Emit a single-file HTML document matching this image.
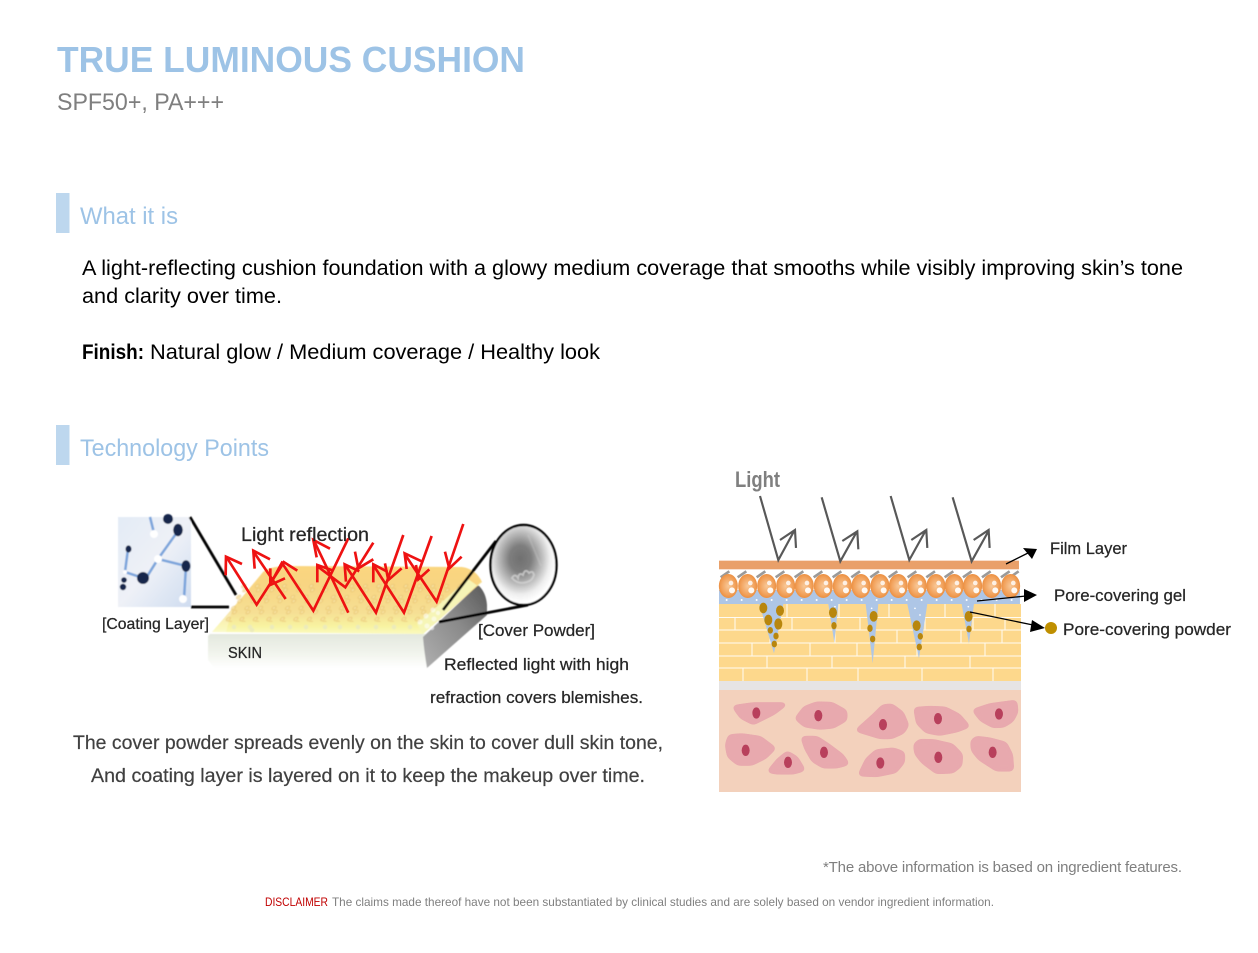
<!DOCTYPE html>
<html lang="en">
<head>
<meta charset="utf-8">
<title>True Luminous Cushion</title>
<style>
html,body{margin:0;padding:0;background:#fff;width:1258px;height:953px;overflow:hidden}
svg{display:block;font-family:"Liberation Sans",sans-serif}
</style>
</head>
<body>
<svg width="1258" height="953" viewBox="0 0 1258 953" xmlns="http://www.w3.org/2000/svg">
<defs>
  <filter id="b1" x="-5%" y="-5%" width="110%" height="110%"><feGaussianBlur stdDeviation="0.6"/></filter>
  <filter id="b2" x="-5%" y="-5%" width="110%" height="110%"><feGaussianBlur stdDeviation="0.35"/></filter>
  <filter id="goo" x="-5%" y="-5%" width="110%" height="110%" color-interpolation-filters="sRGB">
    <feGaussianBlur stdDeviation="7"/>
    <feColorMatrix type="matrix" values="1 0 0 0 0  0 1 0 0 0  0 0 1 0 0  0 0 0 14 -6"/>
  </filter>
  <linearGradient id="top" x1="0" y1="0" x2="0" y2="1">
    <stop offset="0" stop-color="#fad67f"/><stop offset=".28" stop-color="#f8d582"/>
    <stop offset=".7" stop-color="#f6e095"/><stop offset=".88" stop-color="#f8f3a0"/><stop offset="1" stop-color="#fafac0"/>
  </linearGradient>
  <linearGradient id="skin" x1="0" y1="0" x2="0" y2="1">
    <stop offset="0" stop-color="#e3e8de"/><stop offset=".55" stop-color="#f1f4ec"/><stop offset="1" stop-color="#fff"/>
  </linearGradient>
  <linearGradient id="side" x1="0" y1="1" x2="1" y2="0">
    <stop offset="0" stop-color="#b0b0b0"/><stop offset=".55" stop-color="#8a8a8a"/><stop offset="1" stop-color="#595959"/>
  </linearGradient>
  <linearGradient id="coat" x1="0" y1="0" x2="1" y2="1">
    <stop offset="0" stop-color="#e3ebf6"/><stop offset=".5" stop-color="#eef1f7"/><stop offset="1" stop-color="#cfdcf0"/>
  </linearGradient>
  <radialGradient id="lens" cx=".45" cy=".42" r=".55">
    <stop offset="0" stop-color="#707070"/><stop offset=".3" stop-color="#7e7e7e"/><stop offset=".6" stop-color="#bdbdbd"/><stop offset=".82" stop-color="#efefef"/><stop offset="1" stop-color="#fff"/>
  </radialGradient>
  <radialGradient id="ball" cx=".5" cy=".5" r=".55">
    <stop offset="0" stop-color="#f8c898"/><stop offset=".65" stop-color="#f2a25c"/><stop offset="1" stop-color="#e98a3a"/>
  </radialGradient>
  <pattern id="dots" width="13.5" height="11" patternUnits="userSpaceOnUse" patternTransform="skewX(-25)">
    <circle cx="4" cy="3" r="2.500" fill="#e8c474" opacity=".55"/>
    <circle cx="7" cy="7" r="2.500" fill="#e8c474" opacity=".55"/>
    <circle cx="4" cy="3" r="1.100" fill="#f9e6a8" opacity=".8"/>
    <circle cx="7" cy="7" r="1.100" fill="#f9e6a8" opacity=".8"/>
  </pattern>
  <clipPath id="topclip"><path d="M240,583 L482,583 L423,622 L222,622 Z"/></clipPath>
  <g id="bl">
    <ellipse cx="0" cy="0" rx="28.500" ry="36" fill="url(#ball)"/>
    <circle cx="8" cy="-9" r="7" fill="#fff" opacity=".8"/>
    <circle cx="11" cy="13" r="9" fill="#fff" opacity=".92"/>
  </g>
  <path id="hb" d="M0,0 L26,-18" stroke="#9a9a9a" stroke-width="8" fill="none"/>
</defs>

<rect width="1258" height="953" fill="#fff"/>

<!-- Headings -->
<text x="57" y="72" font-size="36" font-weight="bold" fill="#9dc3e6" textLength="468" lengthAdjust="spacingAndGlyphs">TRUE LUMINOUS CUSHION</text>
<text x="57" y="110" font-size="24" fill="#7f7f7f" textLength="167" lengthAdjust="spacingAndGlyphs">SPF50+, PA+++</text>

<rect x="56" y="193" width="13.500" height="40" fill="#bdd7ee"/>
<text x="80" y="224" font-size="24" fill="#9dc3e6" textLength="98" lengthAdjust="spacingAndGlyphs">What it is</text>

<text x="82" y="275" font-size="21" fill="#000" textLength="1101" lengthAdjust="spacingAndGlyphs">A light-reflecting cushion foundation with a glowy medium coverage that smooths while visibly improving skin’s tone</text>
<text x="82" y="303" font-size="21" fill="#000" textLength="200" lengthAdjust="spacingAndGlyphs">and clarity over time.</text>
<text x="82" y="359" font-size="21" font-weight="bold" fill="#000" textLength="62" lengthAdjust="spacingAndGlyphs">Finish:</text>
<text x="150" y="359" font-size="21" fill="#000" textLength="450" lengthAdjust="spacingAndGlyphs">Natural glow / Medium coverage / Healthy look</text>

<rect x="56" y="425" width="13.500" height="40" fill="#bdd7ee"/>
<text x="80" y="456" font-size="24" fill="#9dc3e6" textLength="189" lengthAdjust="spacingAndGlyphs">Technology Points</text>

<!-- LEFT DIAGRAM -->
<g filter="url(#b1)">
  <!-- coating molecule image -->
  <rect x="118" y="517" width="73" height="90" fill="url(#coat)"/>
  <g stroke="#7ea6dc" stroke-width="2.600" fill="none">
    <path d="M150,517 L154,533"/>
    <path d="M178,531 L158,559 L148,575 L143,578 L125,572 L128,549"/>
    <path d="M158,559 L186,566 L184,599"/>
  </g>
  <g fill="#14264c">
    <circle cx="168" cy="519" r="5"/>
    <ellipse cx="178" cy="530" rx="4.800" ry="6.200"/>
    <ellipse cx="128.500" cy="549" rx="3" ry="3.600"/>
    <ellipse cx="186" cy="566" rx="4.500" ry="5.800"/>
    <circle cx="143" cy="578" r="6"/>
    <circle cx="124" cy="580" r="2.800"/>
    <circle cx="123" cy="587" r="3.200"/>
  </g>
  <g fill="#fff">
    <circle cx="154" cy="534" r="4"/>
    <circle cx="158" cy="559" r="4"/>
    <circle cx="183" cy="599" r="4"/>
    <circle cx="125" cy="572" r="2"/>
  </g>
  <!-- slab -->
  <path d="M208,636 L210,634 L427,634 L427,668 L214,668 L208,660 Z" fill="url(#skin)"/>
  <path d="M423,637 L478,585 Q486,592 487,605 L487,615 L427,668 Q424,650 423,637 Z" fill="url(#side)"/>
  <path d="M212,632 Q236,605 263,572 Q268,567 285,566 L462,567 Q476,569 482,582 L423,634 Z" fill="url(#top)"/>
  <path d="M212,632 L232,610 L226,632 Z" fill="#fff" opacity=".25"/>
  <rect x="210" y="583" width="275" height="40" fill="url(#dots)" clip-path="url(#topclip)"/>
  <path d="M423,634 L482,581 L478,586 L468,579 L417,624 Z" fill="#f6f5b8" opacity=".95"/>
  <g fill="#fff" opacity=".55">
    <circle cx="420" cy="622" r="2.500"/><circle cx="426" cy="616" r="2.500"/><circle cx="433" cy="610" r="2.500"/><circle cx="427" cy="626" r="2.500"/><circle cx="434" cy="619" r="2.500"/><circle cx="432" cy="628" r="2.200"/><circle cx="438" cy="613" r="2.200"/>
  </g>
  <g fill="#ecebbb">
    <circle cx="234" cy="627" r="2.300"/><circle cx="250" cy="627" r="2.300"/><circle cx="252" cy="630" r="2.300"/><circle cx="272" cy="627" r="2.300"/><circle cx="290" cy="627" r="2.300"/><circle cx="306" cy="627" r="2.300"/><circle cx="325" cy="627" r="2.300"/><circle cx="340" cy="627" r="2.300"/><circle cx="358" cy="627" r="2.300"/><circle cx="376" cy="627" r="2.300"/><circle cx="394" cy="627" r="2.300"/><circle cx="410" cy="627" r="2.300"/>
  </g>
  <!-- lens -->
  <ellipse cx="523.500" cy="565" rx="33" ry="40" fill="url(#lens)"/>
  <g fill="none" stroke="#d6d6d6" stroke-width="2" opacity=".7">
    <path d="M512,578 q3,-5 6,0 q1,-6 5,-3 q2,-7 6,-2 q4,-3 5,2 q-2,6 -7,7 q-9,3 -15,-4z"/>
    <path d="M528,535 L541,566" opacity=".35"/>
  </g>
  <ellipse cx="523.500" cy="565" rx="33" ry="40" fill="none" stroke="#000" stroke-width="2.400"/>
  <g stroke="#000" stroke-width="2.800" fill="none">
    <path d="M190,517 L236,595"/>
    <path d="M191,607 L229,607"/>
    <path d="M443,610 L496,541"/>
    <path d="M439,622 L528,605"/>
  </g>
</g>
<!-- red rays -->
<g transform="translate(90 500) scale(.3333)" fill="none" stroke="#ee1212" stroke-width="8">
  <path d="M410,172 L500,314 L580,190"/><path d="M407,226 L408,170 L456,192"/>
  <path d="M492,157 L587,297"/><path d="M494,206 L490,152 L540,178"/>
  <path d="M575,187 L670,332 L775,115"/><path d="M541,205 L541,255 L585,235 M578,184 L622,212 M578,184 L548,240"/>
  <path d="M672,122 L775,338"/><path d="M680,172 L670,120 L720,146"/>
  <path d="M680,197 L766,262 L850,128"/><path d="M682,247 L682,195 L730,212"/>
  <path d="M795,155 L805,205 L850,178"/>
  <path d="M766,195 L858,338 L940,105"/><path d="M768,245 L764,193 L808,214"/>
  <path d="M850,195 L942,338 L1025,108"/><path d="M850,247 L850,193 L892,215"/>
  <path d="M885,190 L895,240 L935,205"/>
  <path d="M946,165 L1040,305 L1120,72"/><path d="M950,207 L944,160 L995,184"/>
  <path d="M978,195 L985,238 L1018,208"/>
  <path d="M1065,155 L1078,205 L1115,170"/>
</g>

<g fill="#262626" stroke="#262626" stroke-width=".25">
  <text x="241" y="541" font-size="19" textLength="128" lengthAdjust="spacingAndGlyphs">Light reflection</text>
  <text x="102" y="629" font-size="16" textLength="107" lengthAdjust="spacingAndGlyphs">[Coating Layer]</text>
  <text x="228" y="658" font-size="16" textLength="34" lengthAdjust="spacingAndGlyphs">SKIN</text>
  <text x="478" y="636" font-size="17" textLength="117" lengthAdjust="spacingAndGlyphs">[Cover Powder]</text>
  <text x="444" y="670" font-size="17" textLength="185" lengthAdjust="spacingAndGlyphs">Reflected light with high</text>
  <text x="430" y="703" font-size="17" textLength="213" lengthAdjust="spacingAndGlyphs">refraction covers blemishes.</text>
</g>
<g fill="#404040" stroke="#404040" stroke-width=".2">
  <text x="73" y="749" font-size="19" textLength="590" lengthAdjust="spacingAndGlyphs">The cover powder spreads evenly on the skin to cover dull skin tone,</text>
  <text x="91" y="782" font-size="19" textLength="554" lengthAdjust="spacingAndGlyphs">And coating layer is layered on it to keep the makeup over time.</text>
</g>

<!-- RIGHT DIAGRAM -->
<text x="735" y="487" font-size="22" font-weight="bold" fill="#7f7f7f" textLength="45" lengthAdjust="spacingAndGlyphs">Light</text>

<g filter="url(#b2)">
  <!-- bricks -->
  <rect x="719" y="604" width="302" height="77" fill="#fdd88c"/>
  <g stroke="#fff" stroke-width="1" fill="none" opacity=".9">
    <path d="M719,617.500H1021M719,630H1021M719,643H1021M719,656H1021M719,668H1021"/>
    <path d="M787,604V617.500M839,604V617.500M889,604V617.500M945,604V617.500M995,604V617.500"/>
    <path d="M735,617.500V630M792,617.500V630M860,617.500V630M925,617.500V630M973,617.500V630M1005,617.500V630"/>
    <path d="M770,630V643M835,630V643M897,630V643M961,630V643M1002,630V643"/>
    <path d="M752,643V656M810,643V656M857,643V656M917,643V656M985,643V656"/>
    <path d="M767,656V668M832,656V668M905,656V668M970,656V668"/>
    <path d="M743,668V681M807,668V681M858,668V681M922,668V681M993,668V681"/>
  </g>
  <rect x="719" y="681" width="302" height="9" fill="#e6e4e4"/>
  <rect x="719" y="690" width="302" height="102" fill="#f3d1bc"/>

  <!-- blue gel + pores -->
  <g transform="translate(700 460) scale(.3333)">
    <path d="M57,390 H960 V432 H822 L807,550 L785,432 H682 L657,595 L622,432 H535 L518,610 L497,432 H415 L403,548 L385,432 H250 L222,580 L178,432 H57 Z" fill="#aec6e6"/>
    <g fill="#fff">
      <circle cx="80" cy="420" r="3"/><circle cx="125" cy="420" r="3"/><circle cx="170" cy="420" r="3"/><circle cx="215" cy="420" r="3"/><circle cx="260" cy="420" r="3"/><circle cx="305" cy="420" r="3"/><circle cx="350" cy="420" r="3"/><circle cx="395" cy="420" r="3"/><circle cx="440" cy="420" r="3"/><circle cx="485" cy="420" r="3"/><circle cx="530" cy="420" r="3"/><circle cx="575" cy="420" r="3"/><circle cx="620" cy="420" r="3"/><circle cx="665" cy="420" r="3"/><circle cx="710" cy="420" r="3"/><circle cx="755" cy="420" r="3"/><circle cx="800" cy="420" r="3"/><circle cx="845" cy="420" r="3"/><circle cx="890" cy="420" r="3"/><circle cx="935" cy="420" r="3"/>
      <circle cx="645" cy="445" r="2.500"/><circle cx="660" cy="465" r="2.500"/><circle cx="405" cy="440" r="2.500"/><circle cx="515" cy="445" r="2.500"/><circle cx="805" cy="440" r="2.500"/>
    </g>
    <g fill="#b8860b">
      <ellipse cx="190" cy="444" rx="12" ry="16"/><ellipse cx="240" cy="452" rx="12" ry="16"/>
      <ellipse cx="205" cy="480" rx="12" ry="16"/><ellipse cx="235" cy="492" rx="12" ry="17"/>
      <ellipse cx="211" cy="511" rx="8" ry="10"/><ellipse cx="228" cy="528" rx="8" ry="10"/><ellipse cx="223" cy="552" rx="8" ry="10"/>
      <ellipse cx="399" cy="458" rx="12" ry="16"/><ellipse cx="402" cy="497" rx="8" ry="11"/>
      <ellipse cx="521" cy="469" rx="12" ry="16"/><ellipse cx="510" cy="505" rx="8" ry="11"/><ellipse cx="518" cy="537" rx="8" ry="10"/>
      <ellipse cx="650" cy="497" rx="12" ry="16"/><ellipse cx="661" cy="529" rx="8" ry="10"/><ellipse cx="658" cy="561" rx="8" ry="10"/>
      <ellipse cx="806" cy="469" rx="12" ry="16"/><ellipse cx="807" cy="507" rx="8" ry="10"/>
    </g>
    <!-- hatch + film -->
    <rect x="57" y="328" width="903" height="40" fill="#fff"/>
    <use href="#hb" x="62" y="352"/><use href="#hb" x="113" y="352"/><use href="#hb" x="170" y="352"/><use href="#hb" x="227" y="352"/><use href="#hb" x="284" y="352"/><use href="#hb" x="341" y="352"/><use href="#hb" x="398" y="352"/><use href="#hb" x="454" y="352"/><use href="#hb" x="511" y="352"/><use href="#hb" x="566" y="352"/><use href="#hb" x="623" y="352"/><use href="#hb" x="679" y="352"/><use href="#hb" x="734" y="352"/><use href="#hb" x="789" y="352"/><use href="#hb" x="846" y="352"/><use href="#hb" x="903" y="352"/><use href="#hb" x="930" y="352"/>
    <rect x="57" y="302" width="900" height="26" fill="#e9a06b"/>
    <!-- balls -->
    <use href="#bl" x="85" y="378"/><use href="#bl" x="143" y="378"/><use href="#bl" x="200" y="378"/><use href="#bl" x="257" y="378"/><use href="#bl" x="313" y="378"/><use href="#bl" x="370" y="378"/><use href="#bl" x="427" y="378"/><use href="#bl" x="483" y="378"/><use href="#bl" x="540" y="378"/><use href="#bl" x="595" y="378"/><use href="#bl" x="652" y="378"/><use href="#bl" x="708" y="378"/><use href="#bl" x="763" y="378"/><use href="#bl" x="818" y="378"/><use href="#bl" x="875" y="378"/><use href="#bl" x="932" y="378"/>
    <!-- light arrows -->
    <g fill="none" stroke="#595959" stroke-width="6.500">
      <path d="M180,108 L235,300 L283,212 M240,240 L285,210 L288,264"/>
      <path d="M365,112 L421,304 L470,216 M427,243 L472,214 L475,268"/>
      <path d="M572,108 L628,300 L677,212 M634,240 L679,210 L682,264"/>
      <path d="M758,112 L815,304 L864,216 M821,240 L866,210 L869,264"/>
    </g>
  </g>

  <!-- pointers -->
  <g stroke="#000" stroke-width="1.300" fill="none">
    <path d="M1006,564 L1028,553"/>
    <path d="M977,601 L1026,596"/>
    <path d="M970,612 L1033,625"/>
  </g>
  <g fill="#000">
    <path d="M1037,549 L1023,548 L1032,559 Z"/>
    <path d="M1037,595 L1024,589 L1024,602 Z"/>
    <path d="M1045,628 L1032,620 L1030,632 Z"/>
  </g>

  <!-- cells -->
  <g transform="translate(710 670) scale(.3333)">
    <g filter="url(#goo)">
      <g fill="#e8a9ae" stroke="#e8a9ae" stroke-width="14" stroke-linejoin="round">
        <polygon points="75,112 130,104 222,104 190,128 130,158 95,140"/>
        <polygon points="262,145 285,115 320,102 365,103 405,125 405,148 370,168 330,172 285,165"/>
        <polygon points="445,180 490,140 520,110 545,108 575,130 590,165 578,185 545,200 510,200"/>
        <polygon points="618,118 660,115 705,117 745,137 772,168 740,180 690,190 650,183 625,158"/>
        <polygon points="795,122 840,107 915,97 918,125 905,150 880,166 850,167 815,148"/>
        <polygon points="52,225 60,200 95,197 150,205 190,235 165,260 125,280 85,280 58,258"/>
        <polygon points="180,303 205,272 232,250 258,265 278,298 250,306 200,306"/>
        <polygon points="280,205 320,205 355,228 395,258 410,280 380,288 340,288 310,270 290,235"/>
        <polygon points="452,312 472,270 500,245 550,240 578,250 578,275 555,303 500,314"/>
        <polygon points="617,225 630,214 670,215 725,227 752,255 750,285 728,303 680,305 640,275 620,250"/>
        <polygon points="788,215 800,205 840,210 885,222 902,255 905,297 860,297 810,265 790,240"/>
      </g>
    </g>
    <g fill="#b8405c">
      <ellipse cx="139" cy="129" rx="12" ry="17"/><ellipse cx="325" cy="137" rx="12" ry="17"/><ellipse cx="519" cy="164" rx="12" ry="17"/><ellipse cx="684" cy="146" rx="12" ry="17"/><ellipse cx="867" cy="132" rx="12" ry="17"/><ellipse cx="107" cy="241" rx="12" ry="17"/><ellipse cx="234" cy="277" rx="12" ry="17"/><ellipse cx="342" cy="247" rx="12" ry="17"/><ellipse cx="511" cy="279" rx="12" ry="17"/><ellipse cx="685" cy="262" rx="12" ry="17"/><ellipse cx="848" cy="247" rx="12" ry="17"/>
    </g>
  </g>
</g>

<circle cx="1051" cy="628" r="6" fill="#bf8f00"/>
<g fill="#262626" stroke="#262626" stroke-width=".25">
  <text x="1050" y="554" font-size="17" textLength="77" lengthAdjust="spacingAndGlyphs">Film Layer</text>
  <text x="1054" y="601" font-size="17" textLength="132" lengthAdjust="spacingAndGlyphs">Pore-covering gel</text>
  <text x="1063" y="635" font-size="17" textLength="168" lengthAdjust="spacingAndGlyphs">Pore-covering powder</text>
</g>

<!-- Footnotes -->
<text x="823" y="872" font-size="15" fill="#7f7f7f" textLength="359" lengthAdjust="spacing">*The above information is based on ingredient features.</text>
<text x="265" y="906" font-size="12" fill="#c00000" textLength="63" lengthAdjust="spacingAndGlyphs">DISCLAIMER</text>
<text x="332" y="906" font-size="12" fill="#7f7f7f" textLength="662" lengthAdjust="spacingAndGlyphs">The claims made thereof have not been substantiated by clinical studies and are solely based on vendor ingredient information.</text>
</svg>
</body>
</html>
